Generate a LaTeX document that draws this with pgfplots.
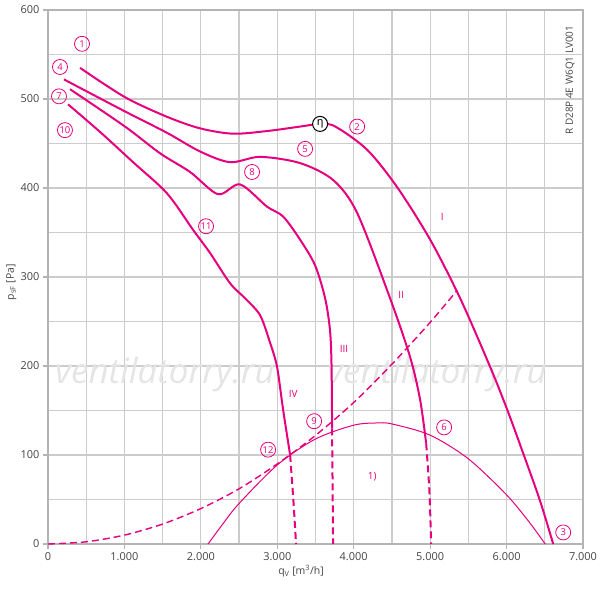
\documentclass[border=0pt]{standalone}
\usepackage{pgfplots}
\pgfplotsset{compat=1.18}
\usepackage{fontspec}
\setmainfont{Open Sans}
\newfontfamily\greekfont{Noto Sans}
\definecolor{mag}{HTML}{E6007E}
\definecolor{gridc}{HTML}{CCCCCC}
\definecolor{axc}{HTML}{B4B4B4}
\definecolor{txt}{HTML}{444444}
\begin{document}
\begin{tikzpicture}
\useasboundingbox (0,0) rectangle (600bp,591bp);
\begin{axis}[
  at={(48bp,47bp)}, anchor=south west,
  scale only axis, width=535bp, height=534bp,
  xmin=0, xmax=7000, ymin=0, ymax=600,
  xtick={0,1000,...,7000},
  xticklabels={0,1.000,2.000,3.000,4.000,5.000,6.000,7.000},
  ytick={0,100,...,600},
  yticklabels={0,100,200,300,400,500,600},
  minor xtick={500,1500,...,6500},
  minor ytick={50,150,...,550},
  grid=both,
  major grid style={gridc, line width=1.2bp},
  minor grid style={gridc, line width=1.2bp},
  axis line style={axc, line width=1.5bp},
  tick style={axc, line width=1.2bp},
  major tick length=5bp, minor tick length=0pt,
  tick align=outside,
  xtick pos=bottom, ytick pos=left,
  /pgf/number format/assume math mode=true,
  ticklabel style={font=\fontsize{11}{12}\selectfont, text=txt},
  xlabel={q\textsubscript{V} [m\textsuperscript{3}/h]},
  ylabel={p\textsubscript{sF} [Pa]},
  label style={font=\fontsize{10.5}{12}\selectfont, text=txt},
  xlabel style={at={(axis description cs:0.473,0)}, anchor=north, yshift=-18bp},
  ylabel style={at={(axis description cs:0,0.49)}, anchor=south, yshift=28bp},
  clip=false,
]
% watermark
\node[text=gray!20, font=\itshape\fontsize{35}{38}\selectfont] at (axis cs:1530,190) {ventilatorry.ru};
\node[text=gray!20, font=\itshape\fontsize{35}{38}\selectfont] at (axis cs:5090,190) {ventilatorry.ru};
% system curve (dashed)
\addplot[mag, line width=1.4bp, dash pattern=on 7bp off 4bp, smooth] coordinates {
 (0,0) (500,2.5) (1000,10) (1500,22.4) (2000,39.8) (2500,62) (3000,90) (3500,122) (4000,159) (4500,202) (5000,249) (5353,285)};
% curve 1)
\addplot[mag, line width=1bp, smooth] coordinates {
 (2094,0) (2300,24) (2500,45.5) (3000,88.8) (3500,118) (4000,133.5) (4306,136) (4500,134.9) (5000,122.3) (5500,95.7) (6000,55.2) (6300,24.2) (6505,0)};
% curve I
\addplot[mag, line width=2bp, smooth] coordinates {
 (419,535) (1008,502) (1557,480) (1990,467) (2421,461) (2866,464) (3298,469) (3560,472) (3760,469) (4175,443) (4568,401) (5000,342) (5393,276) (5785,199) (6008,151) (6217,102) (6440,48) (6610,0)};
% curve II
\addplot[mag, line width=2bp, smooth] coordinates {
 (209,522) (1008,486) (1557,462) (1990,441) (2382,429) (2775,435) (3298,428) (3730,409) (4045,372) (4476,276) (4738,210) (4869,162) (4948,113)};
\addplot[mag, line width=2bp, dash pattern=on 7bp off 4bp, smooth] coordinates {
 (4948,113) (4990,60) (5013,0)};
% curve III
\addplot[mag, line width=2bp, smooth] coordinates {
 (288,511) (1008,469) (1466,439) (1859,418) (2225,393) (2513,404) (2866,379) (3076,368) (3298,342) (3495,313) (3626,276) (3690,240) (3710,200) (3717,130)};
\addplot[mag, line width=2bp, dash pattern=on 7bp off 4bp] coordinates {
 (3717,130) (3730,0)};
% curve IV
\addplot[mag, line width=2bp, smooth] coordinates {
 (262,494) (681,463) (1113,429) (1557,394) (1898,353) (2120,327) (2382,293) (2579,276) (2775,257) (2906,226) (2997,199) (3076,151) (3168,100)};
\addplot[mag, line width=2bp, dash pattern=on 7bp off 4bp] coordinates {
 (3168,100) (3210,50) (3246,0)};
% circled labels
\tikzset{cl/.style={circle, draw=mag, text=mag, line width=0.8bp, inner sep=0pt, minimum size=15bp, font=\fontsize{9.5}{10}\selectfont}}
\node[cl] at (axis cs:445,562) {1};
\node[cl] at (axis cs:157,536) {4};
\node[cl] at (axis cs:144,503) {7};
\node[cl] at (axis cs:222,465) {10};
\node[cl] at (axis cs:4045,469) {2};
\node[cl] at (axis cs:3364,444) {5};
\node[cl] at (axis cs:2670,418) {8};
\node[cl] at (axis cs:2068,357) {11};
\node[cl] at (axis cs:2880,106) {12};
\node[cl] at (axis cs:3482,138) {9};
\node[cl] at (axis cs:5183,131) {6};
\node[cl] at (axis cs:6741,13) {3};
\node[circle, draw=black, fill=white, line width=1bp, inner sep=0pt, minimum size=15bp, font=\greekfont\fontsize{11}{11}\selectfont] at (axis cs:3560,472) {η};
% roman numerals
\tikzset{rn/.style={text=mag, font=\fontsize{10}{12}\selectfont}}
\node[rn] at (axis cs:5157,367) {I};
\node[rn] at (axis cs:4620,280) {II};
\node[rn] at (axis cs:3874,219) {III};
\node[rn] at (axis cs:3207,169) {IV};
\node[rn] at (axis cs:4241,76) {1)};
% type code
\node[rotate=90, text=txt, font=\fontsize{10}{12}\selectfont] at (axis cs:6832,521) {R D28P 4E W6Q1 LV001};
\end{axis}
\end{tikzpicture}
\end{document}
